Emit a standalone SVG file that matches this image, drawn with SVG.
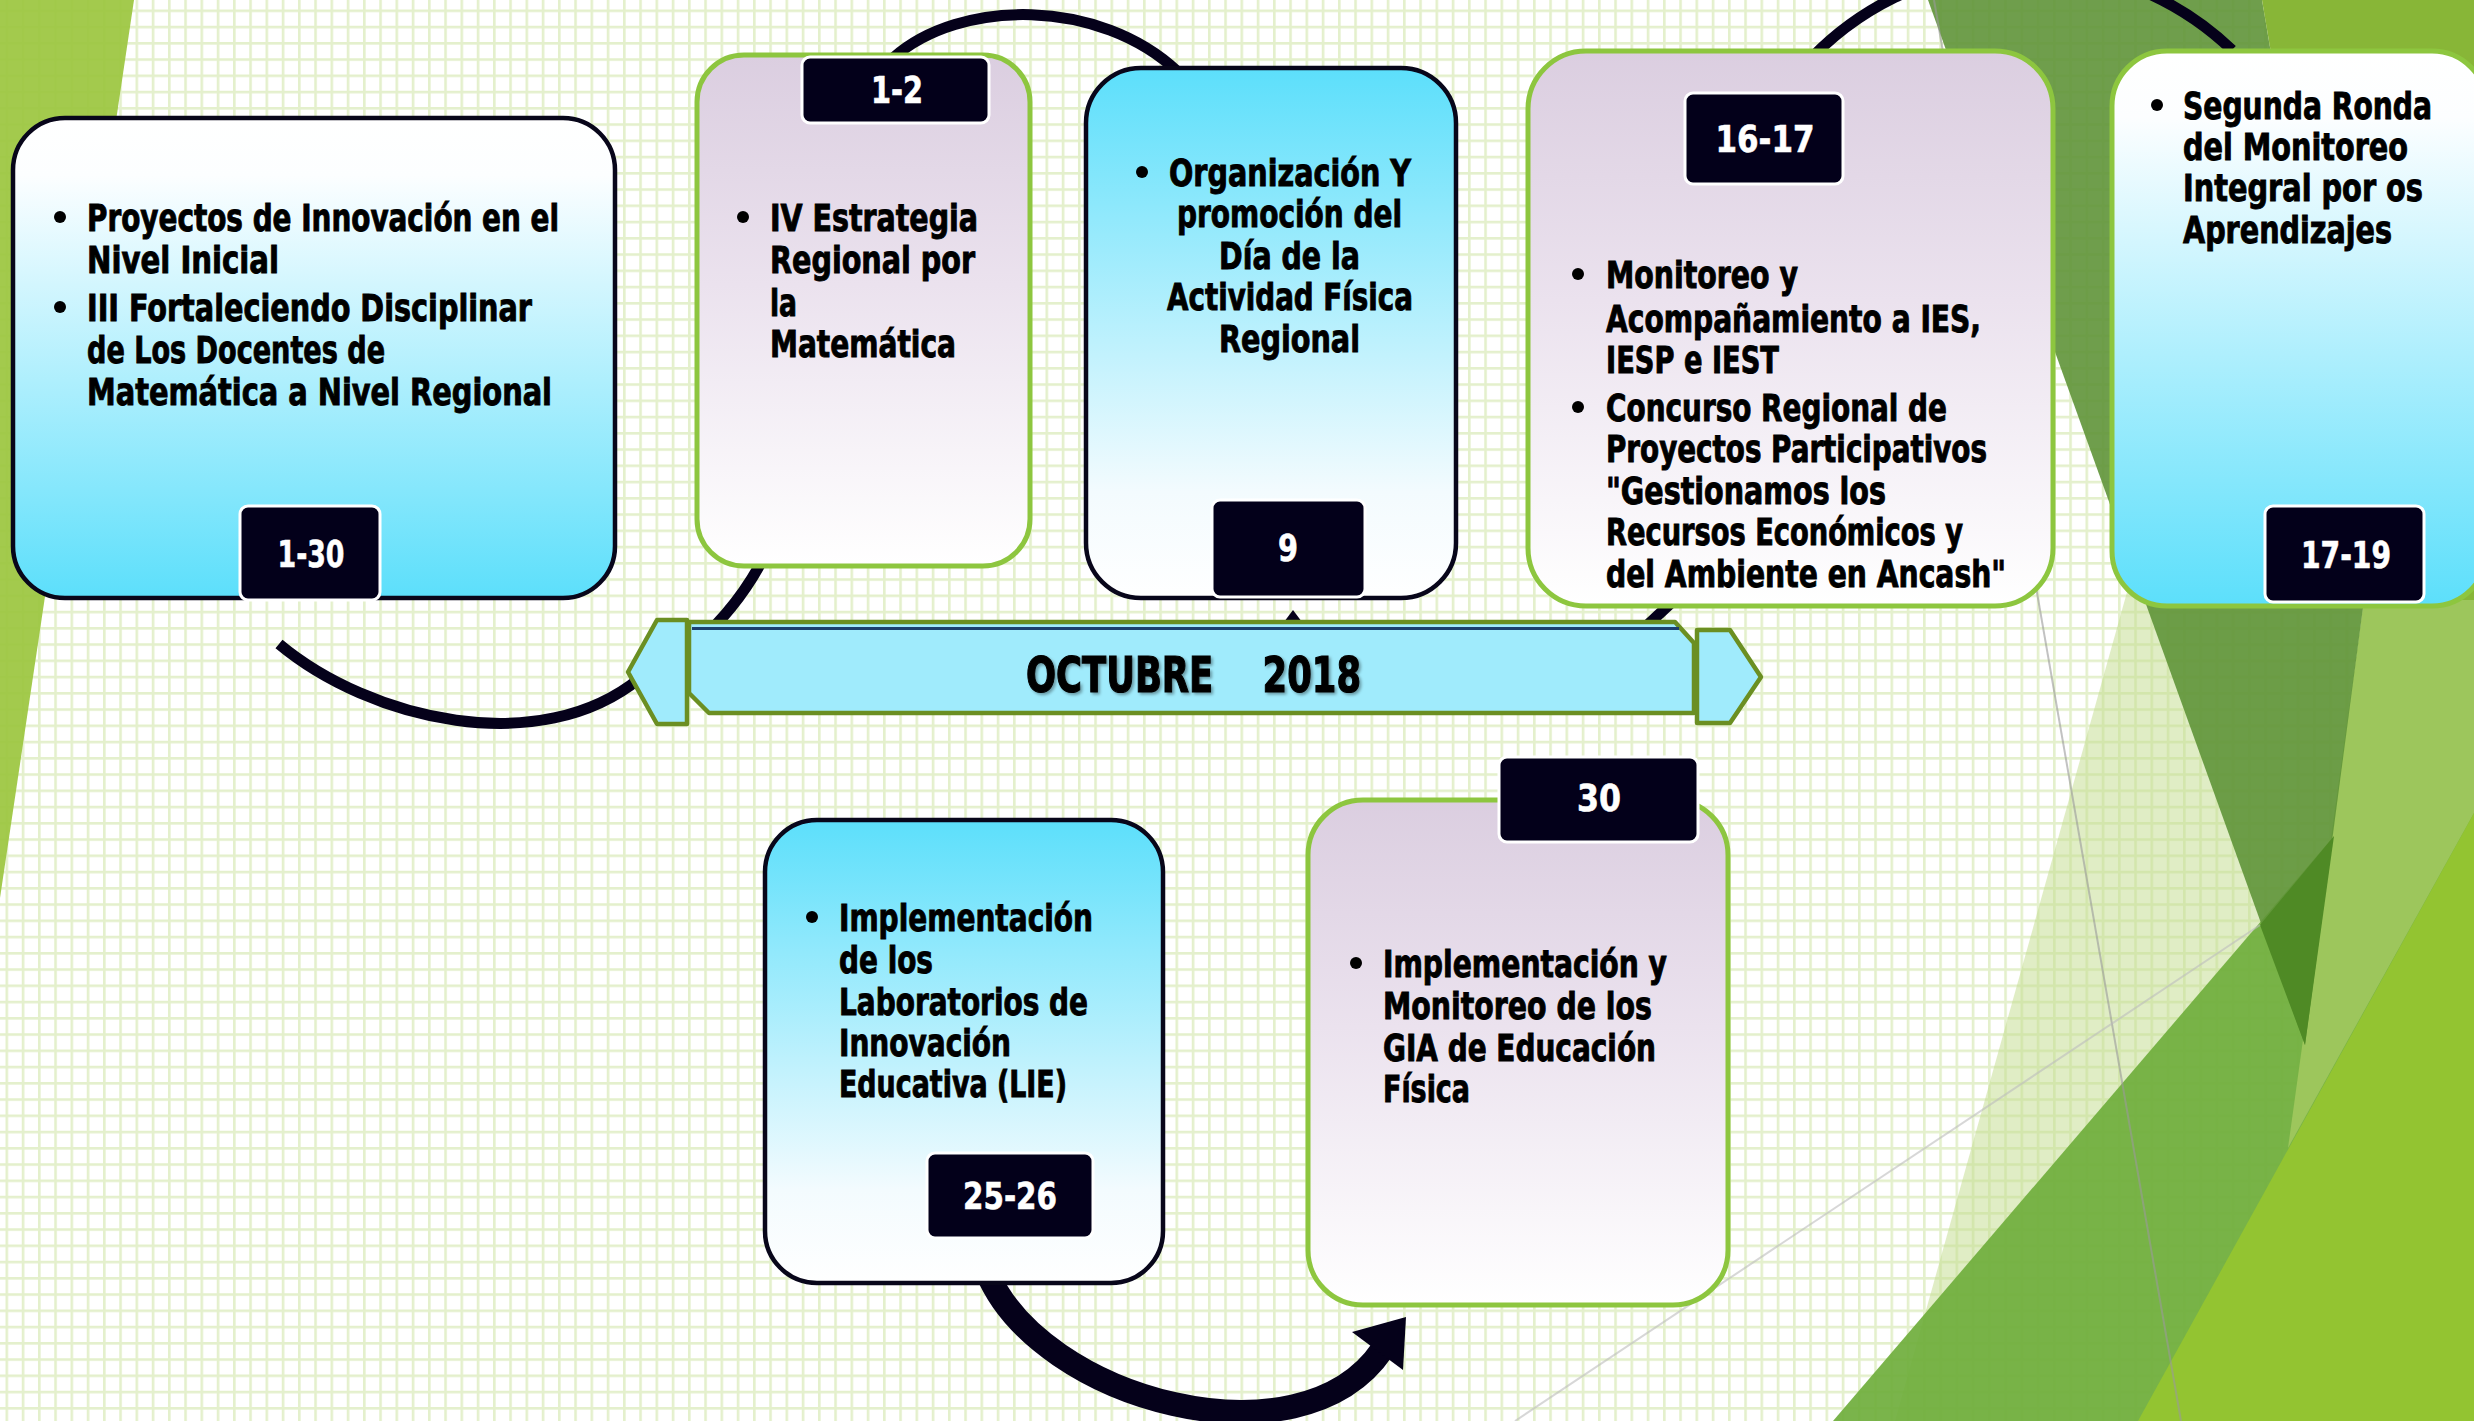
<svg xmlns="http://www.w3.org/2000/svg" width="2474" height="1421" viewBox="0 0 2474 1421">
<style>
.t{font-family:'Liberation Sans Narrow','DejaVu Sans Condensed','Liberation Sans',sans-serif;font-weight:700;font-size:38px;fill:#000;stroke:#000;stroke-width:0.9}
.d{font-family:'Liberation Sans Narrow','DejaVu Sans Condensed','Liberation Sans',sans-serif;font-weight:700;font-size:38px;fill:#fff;stroke:#fff;stroke-width:0.6;text-anchor:middle}
.tab{fill:#03001a;stroke:#fff;stroke-width:3}
.kb{stroke:#08061a;stroke-width:4.5}
.kg{stroke:#8dc63f;stroke-width:5}
.bul{fill:#000}
.con{fill:none;stroke:#05011a;stroke-width:11}
.ban{fill:#a0ebfc;stroke:#6b8f22;stroke-width:4.5;stroke-linejoin:round}
</style>
<defs>
<pattern id="grid" width="16.25" height="16.25" patternUnits="userSpaceOnUse" x="5.5" y="9.5">
<rect x="0" y="0" width="2.6" height="16.25" fill="#e4f0cc"/>
<rect x="0" y="0" width="16.25" height="2.6" fill="#e4f0cc"/>
</pattern>
<linearGradient id="gUp" x1="0" y1="0" x2="0" y2="1">
<stop offset="0" stop-color="#ffffff"/><stop offset="0.12" stop-color="#fcfeff"/><stop offset="1" stop-color="#5cdffb"/>
</linearGradient>
<linearGradient id="gDown" x1="0" y1="0" x2="0" y2="1">
<stop offset="0" stop-color="#5cdffb"/><stop offset="0.8" stop-color="#f3fbfe"/><stop offset="1" stop-color="#ffffff"/>
</linearGradient>
<linearGradient id="gLav" x1="0" y1="0" x2="0" y2="1">
<stop offset="0" stop-color="#dbcee0"/><stop offset="0.45" stop-color="#ebe2ee"/><stop offset="1" stop-color="#ffffff"/>
</linearGradient>
<filter id="sh" x="-5%" y="-20%" width="110%" height="140%">
<feDropShadow dx="2" dy="2" stdDeviation="1.5" flood-color="#000" flood-opacity="0.35"/>
</filter>
</defs>

<g id="background">
<rect width="2474" height="1421" fill="#ffffff"/>
<rect width="2474" height="1421" fill="url(#grid)"/>
<polygon points="0,0 134,0 0,898" fill="#9cc63f" opacity="0.93"/>
<polygon points="2136,560 1895,1421 2400,1421 2400,560" fill="#c2db8c" opacity="0.5"/>
<polygon points="1833,1421 2334,836 2474,680 2474,1421" fill="#6fae3c" opacity="0.92"/>
<polygon points="2364,600 2474,600 2474,813 2288,1148" fill="#9dc65c"/>
<polygon points="1928,0 2262,0 2364,600 2305,1045" fill="#5f9338" opacity="0.9"/>
<polygon points="2260,925 2334,836 2305,1045" fill="#4f8a25"/>
<polygon points="2262,0 2474,0 2474,600 2364,600" fill="#88b637"/>
<polygon points="2138,1421 2474,813 2474,1421" fill="#93c431"/>
<line x1="1934" y1="0" x2="2181" y2="1421" stroke="#9a9a9a" stroke-width="2" opacity="0.6"/>
<line x1="1515" y1="1421" x2="2260" y2="925" stroke="#bdbdbd" stroke-width="2" opacity="0.6"/>
</g>

<g id="connectors">
<path class="con" d="M279,644 C370,720 540,760 640,678"/>
<path class="con" d="M765,555 Q740,605 695,645"/>
<path class="con" d="M893,58 C960,-2 1100,-2 1178,72"/>
<polygon points="1281,626 1293,610 1305,626" fill="#05011a"/>
<path class="con" d="M1685,590 L1625,646"/>
<path class="con" d="M1804,66 A298 298 0 0 1 2232,50"/>
<path class="con" style="stroke-width:24" d="M987,1272 C1040,1400 1300,1470 1382,1350"/>
<polygon points="1406,1317 1352,1332 1403,1370" fill="#05011a"/>
</g>

<g id="banner">
<polygon class="ban" points="628,672 657,620 687,620 687,724 657,724"/>
<polygon class="ban" points="1697,630 1730,630 1761,677 1730,723 1697,723"/>
<polygon class="ban" points="689,622 1675,622 1694,643 1694,713 709,713 689,693"/>
<line x1="692" y1="628.5" x2="1679" y2="628.5" stroke="#1c3f6e" stroke-width="3"/>
<text class="t" x="1026" y="692" style="font-size:50px;stroke-width:1.2" textLength="335" lengthAdjust="spacingAndGlyphs" xml:space="preserve" filter="url(#sh)">OCTUBRE    2018</text>
</g>

<g id="node-1-30">
<rect class="kb" x="13" y="118" width="602" height="480" rx="52" fill="url(#gUp)"/>
<circle class="bul" cx="60" cy="217" r="6"/>
<circle class="bul" cx="60" cy="307" r="6"/>
<text class="t" x="87" y="231" textLength="472" lengthAdjust="spacingAndGlyphs">Proyectos de Innovación en el</text>
<text class="t" x="87" y="273" textLength="192" lengthAdjust="spacingAndGlyphs">Nivel Inicial</text>
<text class="t" x="87" y="321" textLength="445" lengthAdjust="spacingAndGlyphs">III Fortaleciendo Disciplinar</text>
<text class="t" x="87" y="363" textLength="298" lengthAdjust="spacingAndGlyphs">de Los Docentes de</text>
<text class="t" x="87" y="405" textLength="465" lengthAdjust="spacingAndGlyphs">Matemática a Nivel Regional</text>
<rect class="tab" x="240" y="506" width="140" height="94" rx="8"/>
<text class="d" x="311" y="567" textLength="67" lengthAdjust="spacingAndGlyphs">1-30</text>
</g>

<g id="node-1-2">
<rect class="kg" x="697" y="55" width="333" height="511" rx="47" fill="url(#gLav)"/>
<circle class="bul" cx="743" cy="217" r="6"/>
<text class="t" x="770" y="231" textLength="208" lengthAdjust="spacingAndGlyphs">IV Estrategia</text>
<text class="t" x="770" y="273" textLength="205" lengthAdjust="spacingAndGlyphs">Regional por</text>
<text class="t" x="770" y="316" textLength="27" lengthAdjust="spacingAndGlyphs">la</text>
<text class="t" x="770" y="357" textLength="186" lengthAdjust="spacingAndGlyphs">Matemática</text>
<rect class="tab" x="802" y="57" width="187" height="66" rx="8"/>
<text class="d" x="897" y="103" textLength="52" lengthAdjust="spacingAndGlyphs">1-2</text>
</g>

<g id="node-9">
<rect class="kb" x="1086" y="68" width="370" height="530" rx="55" fill="url(#gDown)"/>
<circle class="bul" cx="1142" cy="172" r="6"/>
<text class="t" x="1169" y="186" textLength="242" lengthAdjust="spacingAndGlyphs">Organización Y</text>
<text class="t" x="1177" y="227" textLength="225" lengthAdjust="spacingAndGlyphs">promoción del</text>
<text class="t" x="1219" y="269" textLength="141" lengthAdjust="spacingAndGlyphs">Día de la</text>
<text class="t" x="1167" y="310" textLength="246" lengthAdjust="spacingAndGlyphs">Actividad Física</text>
<text class="t" x="1219" y="352" textLength="141" lengthAdjust="spacingAndGlyphs">Regional</text>
<rect class="tab" x="1212" y="500" width="153" height="97" rx="8"/>
<text class="d" x="1288" y="561" textLength="20" lengthAdjust="spacingAndGlyphs">9</text>
</g>

<g id="node-16-17">
<rect class="kg" x="1528" y="51" width="525" height="555" rx="58" fill="url(#gLav)"/>
<circle class="bul" cx="1578" cy="274" r="6"/>
<circle class="bul" cx="1578" cy="407" r="6"/>
<text class="t" x="1606" y="288" textLength="192" lengthAdjust="spacingAndGlyphs">Monitoreo y</text>
<text class="t" x="1606" y="332" textLength="375" lengthAdjust="spacingAndGlyphs">Acompañamiento a IES,</text>
<text class="t" x="1606" y="373" textLength="173" lengthAdjust="spacingAndGlyphs">IESP e IEST</text>
<text class="t" x="1606" y="421" textLength="341" lengthAdjust="spacingAndGlyphs">Concurso Regional de</text>
<text class="t" x="1606" y="462" textLength="381" lengthAdjust="spacingAndGlyphs">Proyectos Participativos</text>
<text class="t" x="1606" y="504" textLength="280" lengthAdjust="spacingAndGlyphs">"Gestionamos los</text>
<text class="t" x="1606" y="545" textLength="357" lengthAdjust="spacingAndGlyphs">Recursos Económicos y</text>
<text class="t" x="1606" y="587" textLength="400" lengthAdjust="spacingAndGlyphs">del Ambiente en Ancash"</text>
<rect class="tab" x="1685" y="93" width="158" height="91" rx="8"/>
<text class="d" x="1765" y="152" textLength="99" lengthAdjust="spacingAndGlyphs">16-17</text>
</g>

<g id="node-17-19">
<rect class="kg" x="2112" y="51" width="375" height="555" rx="55" fill="url(#gUp)"/>
<circle class="bul" cx="2157" cy="105" r="6"/>
<text class="t" x="2183" y="119" textLength="249" lengthAdjust="spacingAndGlyphs">Segunda Ronda</text>
<text class="t" x="2183" y="160" textLength="225" lengthAdjust="spacingAndGlyphs">del Monitoreo</text>
<text class="t" x="2183" y="201" textLength="240" lengthAdjust="spacingAndGlyphs">Integral por os</text>
<text class="t" x="2183" y="243" textLength="209" lengthAdjust="spacingAndGlyphs">Aprendizajes</text>
<rect class="tab" x="2265" y="506" width="159" height="96" rx="8"/>
<text class="d" x="2346" y="568" textLength="90" lengthAdjust="spacingAndGlyphs">17-19</text>
</g>

<g id="node-25-26">
<rect class="kb" x="765" y="820" width="398" height="463" rx="52" fill="url(#gDown)"/>
<circle class="bul" cx="812" cy="917" r="6"/>
<text class="t" x="839" y="931" textLength="254" lengthAdjust="spacingAndGlyphs">Implementación</text>
<text class="t" x="839" y="973" textLength="94" lengthAdjust="spacingAndGlyphs">de los</text>
<text class="t" x="839" y="1015" textLength="249" lengthAdjust="spacingAndGlyphs">Laboratorios de</text>
<text class="t" x="839" y="1056" textLength="172" lengthAdjust="spacingAndGlyphs">Innovación</text>
<text class="t" x="839" y="1097" textLength="228" lengthAdjust="spacingAndGlyphs">Educativa (LIE)</text>
<rect class="tab" x="927" y="1153" width="166" height="85" rx="8"/>
<text class="d" x="1010" y="1209" textLength="94" lengthAdjust="spacingAndGlyphs">25-26</text>
</g>

<g id="node-30">
<rect class="kg" x="1308" y="800" width="420" height="505" rx="55" fill="url(#gLav)"/>
<circle class="bul" cx="1356" cy="963" r="6"/>
<text class="t" x="1383" y="977" textLength="284" lengthAdjust="spacingAndGlyphs">Implementación y</text>
<text class="t" x="1383" y="1019" textLength="269" lengthAdjust="spacingAndGlyphs">Monitoreo de los</text>
<text class="t" x="1383" y="1061" textLength="273" lengthAdjust="spacingAndGlyphs">GIA de Educación</text>
<text class="t" x="1383" y="1102" textLength="87" lengthAdjust="spacingAndGlyphs">Física</text>
<rect class="tab" x="1499" y="757" width="199" height="85" rx="8"/>
<text class="d" x="1599" y="811" textLength="44" lengthAdjust="spacingAndGlyphs">30</text>
</g>
</svg>
